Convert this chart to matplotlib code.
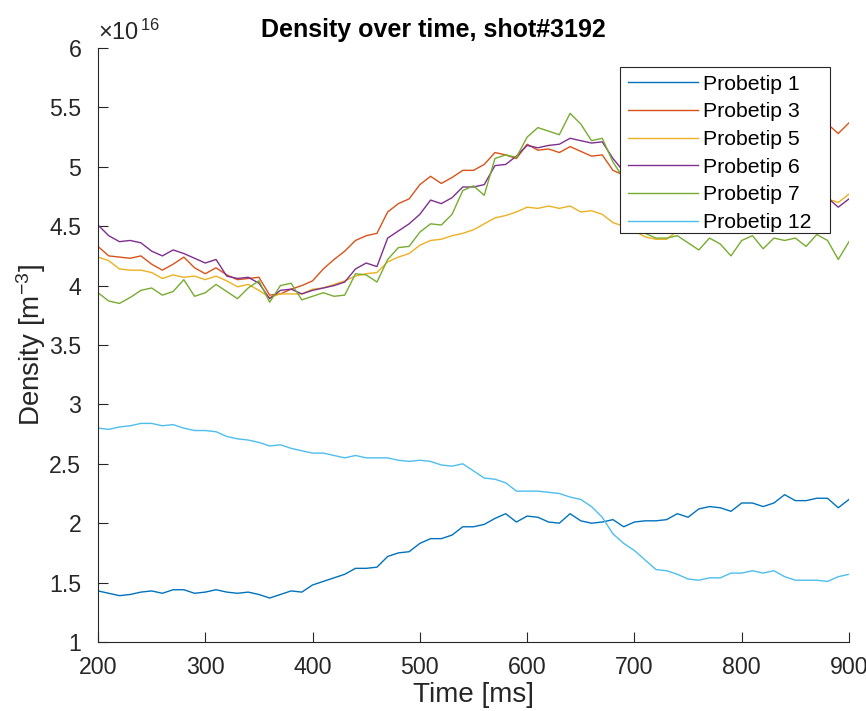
import numpy as np
import matplotlib
matplotlib.use("Agg")
import matplotlib.pyplot as plt
from matplotlib.patches import Rectangle

plt.rcParams['font.family'] = ['Liberation Sans', 'DejaVu Sans']
plt.rcParams['mathtext.fontset'] = 'custom'
plt.rcParams['mathtext.rm'] = 'Liberation Sans'
plt.rcParams['mathtext.it'] = 'Liberation Sans:italic'

time_ms = np.arange(200, 901, 10)

probetip_1 = [1.43, 1.41, 1.39, 1.40, 1.42, 1.43, 1.41, 1.44, 1.44, 1.41,
              1.42, 1.44, 1.42, 1.41, 1.42, 1.40, 1.37, 1.40, 1.43, 1.42,
              1.48, 1.51, 1.54, 1.57, 1.62, 1.62, 1.63, 1.72, 1.75, 1.76,
              1.83, 1.87, 1.87, 1.90, 1.97, 1.97, 1.99, 2.04, 2.08, 2.01,
              2.06, 2.05, 2.01, 2.00, 2.08, 2.02, 2.00, 2.01, 2.03, 1.97,
              2.01, 2.02, 2.02, 2.03, 2.08, 2.05, 2.12, 2.14, 2.13, 2.10,
              2.17, 2.17, 2.14, 2.17, 2.24, 2.19, 2.19, 2.21, 2.21, 2.13,
              2.20]

probetip_3 = [4.33, 4.25, 4.24, 4.23, 4.25, 4.18, 4.13, 4.18, 4.24, 4.15,
              4.10, 4.15, 4.09, 4.05, 4.06, 4.07, 3.92, 3.93, 3.97, 4.00,
              4.04, 4.14, 4.22, 4.29, 4.38, 4.42, 4.44, 4.62, 4.69, 4.73,
              4.85, 4.92, 4.86, 4.91, 4.97, 4.97, 5.02, 5.12, 5.10, 5.07,
              5.19, 5.14, 5.15, 5.12, 5.17, 5.13, 5.09, 5.10, 4.97, 4.93,
              4.95, 5.01, 5.02, 5.07, 5.06, 5.11, 5.13, 5.12, 5.17, 5.18,
              5.21, 5.20, 5.25, 5.24, 5.28, 5.27, 5.31, 5.32, 5.36, 5.28,
              5.37]

probetip_5 = [4.24, 4.21, 4.14, 4.13, 4.13, 4.11, 4.06, 4.09, 4.07, 4.08,
              4.05, 4.08, 4.04, 3.99, 4.01, 3.96, 3.90, 3.93, 3.93, 3.93,
              3.97, 3.98, 4.01, 4.04, 4.08, 4.10, 4.11, 4.20, 4.24, 4.27,
              4.34, 4.38, 4.39, 4.42, 4.44, 4.47, 4.52, 4.57, 4.59, 4.62,
              4.66, 4.65, 4.67, 4.65, 4.67, 4.62, 4.63, 4.60, 4.53, 4.50,
              4.46, 4.41, 4.39, 4.39, 4.46, 4.48, 4.50, 4.49, 4.51, 4.52,
              4.50, 4.52, 4.53, 4.52, 4.55, 4.56, 4.58, 4.62, 4.73, 4.70,
              4.77]

probetip_6 = [4.51, 4.42, 4.37, 4.38, 4.36, 4.29, 4.25, 4.30, 4.27, 4.23,
              4.19, 4.22, 4.08, 4.06, 4.07, 4.02, 3.89, 3.96, 3.97, 3.93,
              3.96, 3.98, 4.00, 4.03, 4.14, 4.19, 4.16, 4.40, 4.46, 4.52,
              4.60, 4.72, 4.69, 4.74, 4.83, 4.83, 4.85, 5.01, 5.02, 5.09,
              5.18, 5.16, 5.18, 5.19, 5.24, 5.22, 5.20, 5.21, 5.07, 4.96,
              4.92, 4.90, 4.89, 4.86, 4.86, 4.84, 4.83, 4.83, 4.81, 4.81,
              4.79, 4.80, 4.78, 4.77, 4.78, 4.76, 4.76, 4.77, 4.74, 4.66,
              4.73]

probetip_7 = [3.94, 3.87, 3.85, 3.90, 3.96, 3.98, 3.92, 3.95, 4.05, 3.91,
              3.94, 4.01, 3.95, 3.89, 3.98, 4.04, 3.86, 4.00, 4.02, 3.88,
              3.91, 3.94, 3.91, 3.92, 4.10, 4.09, 4.03, 4.22, 4.32, 4.33,
              4.45, 4.52, 4.51, 4.60, 4.80, 4.84, 4.76, 5.07, 5.10, 5.08,
              5.25, 5.33, 5.30, 5.27, 5.45, 5.36, 5.22, 5.24, 5.04, 4.90,
              4.60, 4.44, 4.40, 4.40, 4.42, 4.36, 4.30, 4.40, 4.35, 4.25,
              4.38, 4.42, 4.31, 4.40, 4.38, 4.40, 4.33, 4.43, 4.38, 4.22,
              4.37]

probetip_12 = [2.80, 2.79, 2.81, 2.82, 2.84, 2.84, 2.82, 2.83, 2.80, 2.78,
               2.78, 2.77, 2.73, 2.71, 2.70, 2.68, 2.65, 2.66, 2.63, 2.61,
               2.59, 2.59, 2.57, 2.55, 2.57, 2.55, 2.55, 2.55, 2.53, 2.52,
               2.53, 2.52, 2.49, 2.48, 2.50, 2.44, 2.38, 2.37, 2.34, 2.27,
               2.27, 2.27, 2.26, 2.25, 2.22, 2.20, 2.14, 2.05, 1.91, 1.83,
               1.77, 1.69, 1.61, 1.60, 1.57, 1.53, 1.52, 1.54, 1.54, 1.58,
               1.58, 1.60, 1.58, 1.60, 1.55, 1.52, 1.52, 1.52, 1.51, 1.55,
               1.57]

series_labels = ['Probetip 1', 'Probetip 3', 'Probetip 5', 'Probetip 6',
                 'Probetip 7', 'Probetip 12']
series_values = [probetip_1, probetip_3, probetip_5, probetip_6,
                 probetip_7, probetip_12]
colors = ['#0072BD', '#D95319', '#EDB120', '#7E2F8E', '#77AC30', '#4DBEEE']

x_ticks = [200, 300, 400, 500, 600, 700, 800, 900]
y_ticks = [1, 1.5, 2, 2.5, 3, 3.5, 4, 4.5, 5, 5.5, 6]
y_tick_labels = ['1', '1.5', '2', '2.5', '3', '3.5', '4', '4.5', '5', '5.5', '6']

W, H = 866, 711
fig = plt.figure(figsize=(W / 100, H / 100), dpi=100)
ax = fig.add_axes([98 / W, 69 / H, 751 / W, 594 / H])

for vals, lab, col in zip(series_values, series_labels, colors):
    ax.plot(time_ms, vals, color=col, lw=1.0, label=lab)

ax.set_xlim(200, 900)
ax.set_ylim(1, 6)
ax.set_xticks(x_ticks)
ax.set_yticks(y_ticks)
ax.set_yticklabels(y_tick_labels)

axc = '#262626'
for s in ['top', 'right']:
    ax.spines[s].set_visible(False)
for s in ['left', 'bottom']:
    ax.spines[s].set_color(axc)
    ax.spines[s].set_linewidth(0.8)
ax.tick_params(direction='in', length=7, width=0.8, colors=axc,
               labelsize=16.7, labelcolor=axc)
ax.tick_params(axis='y', pad=12)
ax.tick_params(axis='x', pad=10)

ax.set_xlabel('Time [ms]', fontsize=20, color=axc, labelpad=2)
ax.set_ylabel(r'Density [m$^{-3}$]', fontsize=20, color=axc, labelpad=1)

fig.text(0.5, 1 - 30 / H, 'Density over time, shot#3192', ha='center',
         va='center', fontsize=18, fontweight='bold', color='black')
ax.text(0.0, 1.006, '\u00d710$^{\\,16}$', transform=ax.transAxes,
        ha='left', va='bottom', fontsize=17, color=axc)

# legend box (MATLAB style, extra right padding)
box_l, box_r, box_t, box_b = 620, 830, 67, 233
rect = Rectangle((box_l / W, 1 - box_b / H), (box_r - box_l) / W,
                 (box_b - box_t) / H, transform=fig.transFigure,
                 facecolor='white', edgecolor=axc, linewidth=0.8,
                 zorder=4.9, clip_on=False)
ax.add_patch(rect)

leg = ax.legend(loc='upper left', bbox_to_anchor=(box_l / W, 1 - box_t / H),
                bbox_transform=fig.transFigure, frameon=False,
                fontsize=15.3, handlelength=3.3, labelspacing=0.41,
                borderpad=0.36, handletextpad=0.24, borderaxespad=0)
leg.set_zorder(5)

fig.savefig('out.png', dpi=100)
